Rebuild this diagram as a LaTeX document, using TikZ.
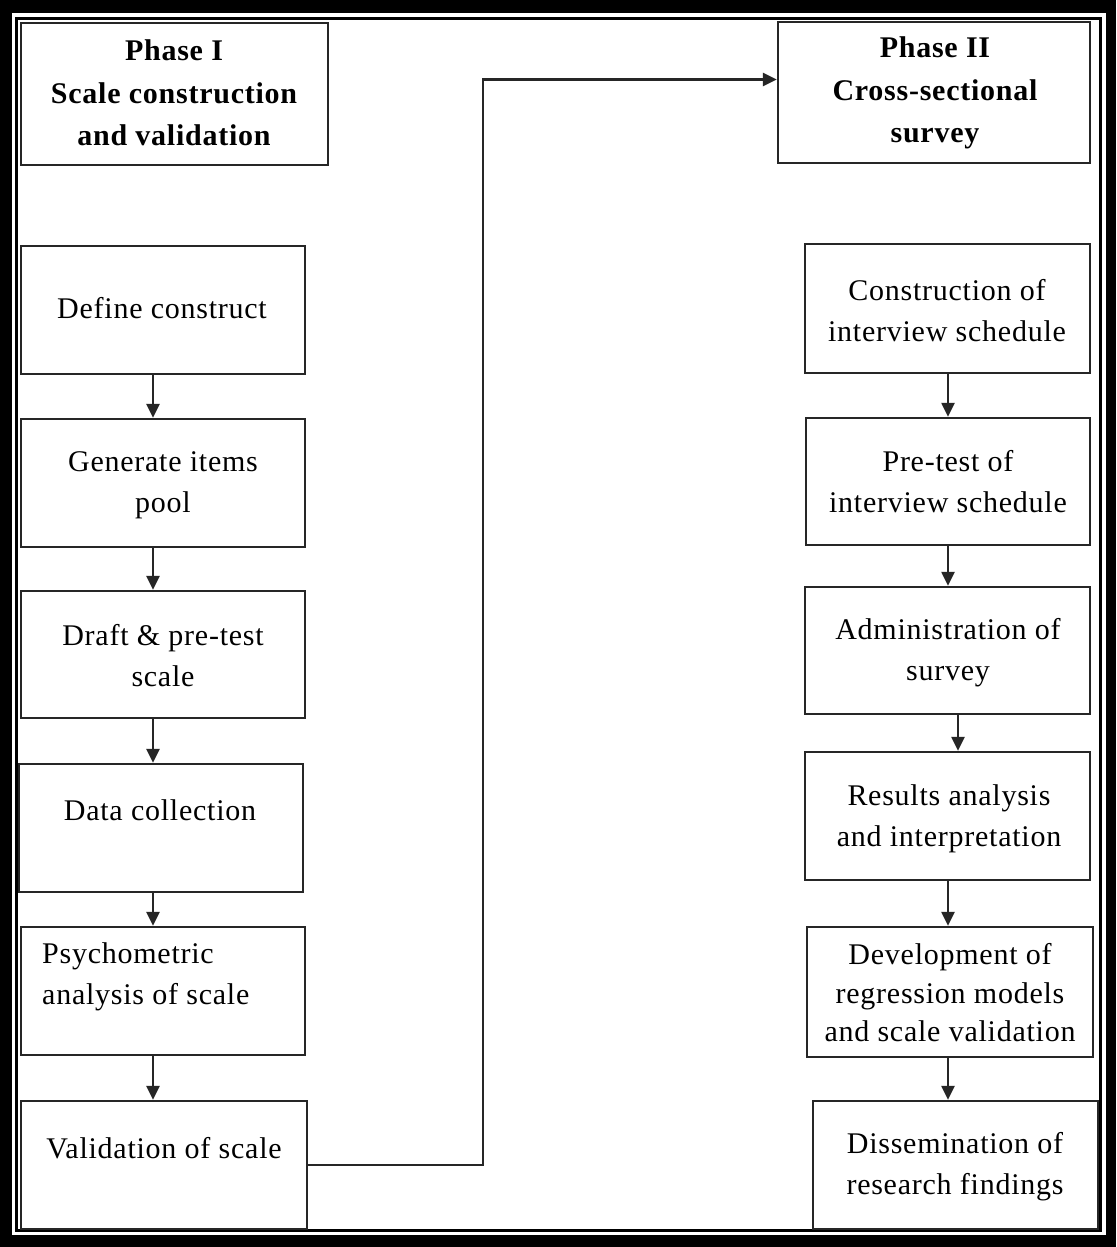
\documentclass[tikz,border=0pt]{standalone}
\usepackage{fontspec}
\setmainfont{Liberation Serif}[LetterSpace=2.5]
\usetikzlibrary{arrows.meta}
\begin{document}
\begin{tikzpicture}[x=1pt,y=-1pt,
  box/.style={draw=black!85, line width=2.3pt, fill=white, inner sep=0pt, rectangle},
  txt/.style={inner sep=0pt, align=center, font=\fontsize{30}{41}\selectfont},
  txtl/.style={inner sep=0pt, align=left, font=\fontsize{30}{41}\selectfont},
  head/.style={inner sep=0pt, align=center, font=\fontsize{30}{42.5}\selectfont\bfseries},
  arr/.style={draw=black!85, line width=2.3pt, -{Triangle[length=14pt,width=13pt]}}]
\useasboundingbox (0,0) rectangle (1116,1247);
% frame
\fill[black] (0,0) rectangle (1116,1247);
\fill[white] (12,13) rectangle (1106,1235);
\draw[line width=3.5pt] (16.5,18.5) rectangle (1100.5,1230.5);
% boxes
\node[box, minimum width=307pt, minimum height=142pt] (P1) at (174.5,94) {};
\node[box, minimum width=312pt, minimum height=141pt] (P2) at (934,92.5) {};
\node[box, minimum width=284pt, minimum height=128pt] (L1) at (163,310) {};
\node[box, minimum width=284pt, minimum height=128pt] (L2) at (163,483) {};
\node[box, minimum width=284pt, minimum height=127pt] (L3) at (163,654.5) {};
\node[box, minimum width=284pt, minimum height=128pt] (L4) at (161,828) {};
\node[box, minimum width=284pt, minimum height=128pt] (L5) at (163,991) {};
\node[box, minimum width=286pt, minimum height=128pt] (L6) at (164,1165) {};
\node[box, minimum width=285pt, minimum height=129pt] (R1) at (947.5,308.5) {};
\node[box, minimum width=284pt, minimum height=127pt] (R2) at (948,481.5) {};
\node[box, minimum width=285pt, minimum height=127pt] (R3) at (947.5,650.5) {};
\node[box, minimum width=285pt, minimum height=128pt] (R4) at (947.5,816) {};
\node[box, minimum width=286pt, minimum height=130pt] (R5) at (950,992) {};
\node[box, minimum width=285pt, minimum height=128pt] (R6) at (955.5,1165) {};
% texts
\node[head] (tP1) at (174,93) {Phase I\\Scale construction\\and validation};
\node[head] (tP2) at (935,93) {Phase II\\Cross-sectional\\survey};
\node[txt] (tL1) at (162,308) {Define construct};
\node[txt] (tL2) at (163,485) {Generate items\\pool};
\node[txt] (tL3) at (163,656) {Draft \& pre-test\\scale};
\node[txt] (tL4) at (160,810) {Data collection};
\node[txtl, anchor=west] (tL5) at (42,977) {Psychometric\\analysis of scale};
\node[txt] (tL6) at (164,1148) {Validation of scale};
\node[txt] (tR1) at (947,311) {Construction of\\interview schedule};
\node[txt] (tR2) at (948,482) {Pre-test of\\interview schedule};
\node[txt] (tR3) at (948,653) {Administration of\\survey};
\node[txt] (tR4) at (949,819) {Results analysis\\and interpretation};
\node[txt, font=\fontsize{30}{38.5}\selectfont] (tR5) at (950,993) {Development of\\regression models\\and scale validation};
\node[txt] (tR6) at (955,1167) {Dissemination of\\research findings};
% connectors
\draw[arr] ([xshift=-10pt]L1.south) -- ([xshift=-10pt]L1.south |- L2.north);
\draw[arr] ([xshift=-10pt]L2.south) -- ([xshift=-10pt]L2.south |- L3.north);
\draw[arr] ([xshift=-10pt]L3.south) -- ([xshift=-10pt]L3.south |- L4.north);
\draw[arr] ([xshift=-8pt]L4.south) -- ([xshift=-8pt]L4.south |- L5.north);
\draw[arr] ([xshift=-10pt]L5.south) -- ([xshift=-10pt]L5.south |- L6.north);
\draw[arr] ([xshift=0.5pt]R1.south) -- ([xshift=0.5pt]R1.south |- R2.north);
\draw[arr] (R2.south) -- (R2.south |- R3.north);
\draw[arr] ([xshift=10.5pt]R3.south) -- ([xshift=10.5pt]R3.south |- R4.north);
\draw[arr] ([xshift=0.5pt]R4.south) -- ([xshift=0.5pt]R4.south |- R5.north);
\draw[arr] ([xshift=-2pt]R5.south) -- ([xshift=-2pt]R5.south |- R6.north);
\draw[arr] (L6.east) -- ++(175,0) |- ([yshift=13pt]P2.west);
\end{tikzpicture}
\end{document}
